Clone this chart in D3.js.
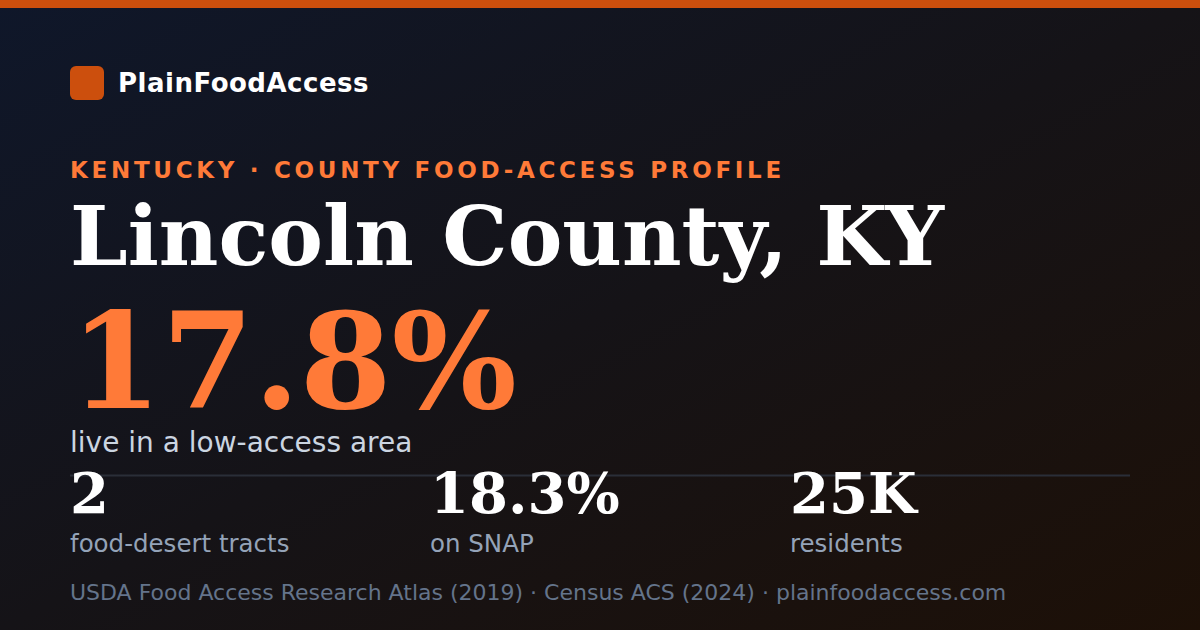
<!DOCTYPE html>
<html>
<head>
<meta charset="utf-8">
<script src="https://cdn.jsdelivr.net/npm/d3@7"></script>
<style>
  html, body { margin: 0; padding: 0; background: #111; }
  svg { display: block; }
</style>
</head>
<body>
<div id="card"></div>
<script>
// card content
var brand = "PlainFoodAccess";
var kicker = "KENTUCKY · COUNTY FOOD-ACCESS PROFILE";
var county = "Lincoln County, KY";
var headlineValue = ["17.8%"];
var headlineLabel = ["live in a low-access area"];
var statValues = ["2", "18.3%", "25K"];
var statLabels = ["food-desert tracts", "on SNAP", "residents"];
var footer = "USDA Food Access Research Atlas (2019) · Census ACS (2024) · plainfoodaccess.com";

function init(){
	var w = 1200;
	var h = 630;
	var sans = "'DejaVu Sans', sans-serif";
	var serif = "'DejaVu Serif', serif";

	var svg = d3.select("#card")
				.append("svg")
				.attr("width", w)
				.attr("height", h);

	var defs = svg.append("defs");
	var grad = defs.append("linearGradient")
		.attr("id", "bg")
		.attr("x1", 0).attr("y1", 0)
		.attr("x2", 1).attr("y2", 1);
	grad.append("stop").attr("offset", "0%").attr("stop-color", "#0f172a");
	grad.append("stop").attr("offset", "50%").attr("stop-color", "#151317");
	grad.append("stop").attr("offset", "100%").attr("stop-color", "#1d1007");

	svg.append("rect")
		.attr("width", w).attr("height", h)
		.attr("fill", "url(#bg)");

	// top accent bar
	svg.append("rect")
		.attr("width", w).attr("height", 8)
		.attr("fill", "#cc4f0d");

	// brand
	svg.append("rect")
		.attr("x", 70).attr("y", 66)
		.attr("width", 34).attr("height", 34)
		.attr("rx", 6)
		.attr("fill", "#cc4f0d");
	svg.append("text")
		.attr("x", 118).attr("y", 92)
		.attr("font-family", sans)
		.attr("font-weight", "bold")
		.attr("font-size", 26)
		.attr("letter-spacing", 0.5)
		.attr("fill", "#ffffff")
		.text(brand);

	// kicker
	svg.append("text")
		.attr("x", 70).attr("y", 178)
		.attr("font-family", sans)
		.attr("font-weight", "bold")
		.attr("font-size", 23)
		.attr("letter-spacing", 3.7)
		.attr("fill", "#ff7a38")
		.text(kicker);

	// county name
	svg.append("text")
		.attr("x", 70).attr("y", 265)
		.attr("font-family", serif)
		.attr("font-weight", "bold")
		.attr("font-size", 82)
		.attr("fill", "#ffffff")
		.text(county);

	// headline stat
	svg.selectAll("text.headline")
		.data(headlineValue)
		.enter()
		.append("text")
		.attr("class", "headline")
		.attr("x", 70).attr("y", 408)
		.attr("font-family", serif)
		.attr("font-weight", "bold")
		.attr("font-size", 132)
		.attr("fill", "#ff7a38")
		.text(function(d){ return d; });

	svg.selectAll("text.headlabel")
		.data(headlineLabel)
		.enter()
		.append("text")
		.attr("class", "headlabel")
		.attr("x", 70).attr("y", 452)
		.attr("font-family", sans)
		.attr("font-size", 28)
		.attr("fill", "#cbd5e1")
		.text(function(d){ return d; });

	// divider
	svg.append("line")
		.attr("x1", 70).attr("x2", 1130)
		.attr("y1", 475.5).attr("y2", 475.5)
		.attr("stroke", "#2a2e38")
		.attr("stroke-width", 2);

	// small stats in three columns
	var x = d3.scaleBand()
		.domain(d3.range(statValues.length))
		.range([70, 1150]);

	svg.selectAll("text.statval")
		.data(statValues)
		.enter()
		.append("text")
		.attr("class", "statval")
		.attr("x", function(d, i){ return x(i); })
		.attr("y", 513)
		.attr("font-family", serif)
		.attr("font-weight", "bold")
		.attr("font-size", 56)
		.attr("fill", "#ffffff")
		.text(function(d){ return d; });

	svg.selectAll("text.statlab")
		.data(statLabels)
		.enter()
		.append("text")
		.attr("class", "statlab")
		.attr("x", function(d, i){ return x(i); })
		.attr("y", 552)
		.attr("font-family", sans)
		.attr("font-size", 24.5)
		.attr("fill", "#94a3b8")
		.text(function(d){ return d; });

	// footer
	svg.append("text")
		.attr("x", 70).attr("y", 600)
		.attr("font-family", sans)
		.attr("font-size", 22)
		.attr("fill", "#64748b")
		.text(footer);
}

window.onload = init;
</script>
</body>
</html>
